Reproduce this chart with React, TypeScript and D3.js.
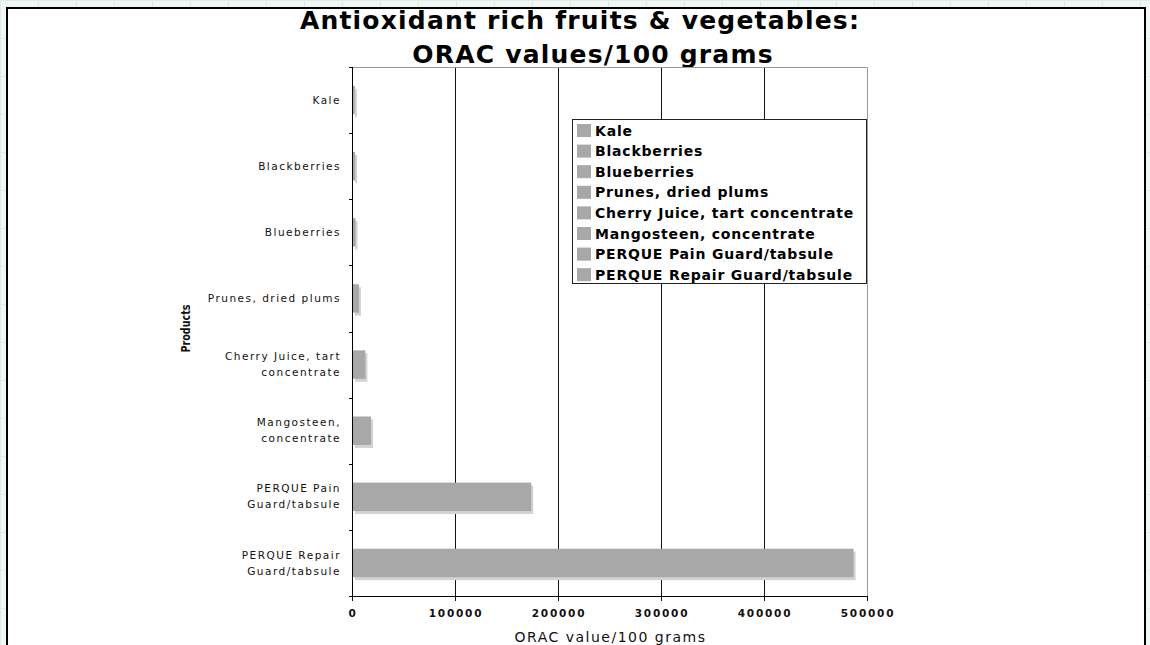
import { useEffect, useRef } from "react";
import * as d3 from "d3";

const categories = [
  "Kale",
  "Blackberries",
  "Blueberries",
  "Prunes, dried plums",
  "Cherry Juice, tart concentrate",
  "Mangosteen, concentrate",
  "PERQUE Pain Guard/tabsule",
  "PERQUE Repair Guard/tabsule",
];
// axis labels wrap onto two lines like the original
const axisLabels = [
  ["Kale"],
  ["Blackberries"],
  ["Blueberries"],
  ["Prunes, dried plums"],
  ["Cherry Juice, tart", "concentrate"],
  ["Mangosteen,", "concentrate"],
  ["PERQUE Pain", "Guard/tabsule"],
  ["PERQUE Repair", "Guard/tabsule"],
];
const legendLabels = [
  "Kale",
  "Blackberries",
  "Blueberries",
  "Prunes, dried plums",
  "Cherry Juice, tart concentrate",
  "Mangosteen, concentrate",
  "PERQUE Pain Guard/tabsule",
  "PERQUE Repair Guard/tabsule",
];
const oracValues = [1770, 2040, 2400, 5770, 12000, 17500, 173000, 486000];
const xTicks = [0, 100000, 200000, 300000, 400000, 500000];

const W = 1150;
const H = 645;
const BAR = "#a8a8a8";
const SHADOW = "#d2d2d2";
const FONT = "'DejaVu Sans', Verdana, sans-serif";

export default function App() {
  const svgRef = useRef<SVGSVGElement>(null);

  useEffect(() => {
    const svg = d3.select(svgRef.current);
    svg.selectAll("*").remove();

    const left = 352;
    const right = 867;
    const top = 67;
    const bottom = 596;

    const x = d3.scaleLinear().domain([0, 500000]).range([left, right]);
    const y = d3
      .scaleBand<string>()
      .domain(categories)
      .range([top, bottom])
      .paddingInner(0.57)
      .paddingOuter(0.285);

    // page background behind the frame
    svg.append("rect").attr("width", W).attr("height", H).attr("fill", "#f1f7f3");
    const bg = svg.append("g").attr("stroke", "#dfece5").attr("stroke-width", 1);
    d3.range(0, W, 38).forEach((v) =>
      bg.append("line").attr("x1", v + 0.5).attr("x2", v + 0.5).attr("y1", 0).attr("y2", H),
    );
    d3.range(0, H, 38).forEach((v) =>
      bg.append("line").attr("x1", 0).attr("x2", W).attr("y1", v + 0.5).attr("y2", v + 0.5),
    );

    svg
      .append("rect")
      .attr("x", 7)
      .attr("y", 8)
      .attr("width", 1138)
      .attr("height", 660)
      .attr("fill", "#fff")
      .attr("stroke", "#000")
      .attr("stroke-width", 2);

    // title
    const title = svg
      .append("g")
      .attr("font-family", FONT)
      .attr("font-weight", "bold")
      .attr("font-size", "25px")
      .attr("letter-spacing", "1.2px")
      .attr("text-anchor", "middle")
      .attr("fill", "#000");
    title.append("text").attr("x", 580).attr("y", 29).text("Antioxidant rich fruits & vegetables:");
    title.append("text").attr("x", 593).attr("y", 63).text("ORAC values/100 grams");

    // grid lines + x ticks
    svg
      .append("g")
      .selectAll("line")
      .data(xTicks)
      .enter()
      .append("line")
      .attr("x1", (d) => Math.round(x(d)) + 0.5)
      .attr("x2", (d) => Math.round(x(d)) + 0.5)
      .attr("y1", (d) => (d === 0 || d === 500000 ? bottom : top))
      .attr("y2", bottom + 5)
      .attr("stroke", "#111")
      .attr("stroke-width", 1);

    // plot border top/right
    svg
      .append("path")
      .attr("d", `M${left},${top + 0.5}H${right + 0.5}V${bottom}`)
      .attr("fill", "none")
      .attr("stroke", "#999")
      .attr("stroke-width", 1);

    // bars with soft drop shadow
    const barG = svg.append("g");
    barG
      .selectAll("rect.shadow")
      .data(oracValues)
      .enter()
      .append("rect")
      .attr("class", "shadow")
      .attr("x", x(0) + 3)
      .attr("y", (_, i) => y(categories[i])! + 3)
      .attr("width", (d) => x(d) - x(0))
      .attr("height", y.bandwidth())
      .attr("fill", SHADOW);
    barG
      .selectAll("rect.bar")
      .data(oracValues)
      .enter()
      .append("rect")
      .attr("class", "bar")
      .attr("x", x(0) + 1)
      .attr("y", (_, i) => y(categories[i])!)
      .attr("width", (d) => x(d) - x(0))
      .attr("height", y.bandwidth())
      .attr("fill", BAR);

    // axes lines
    svg
      .append("line")
      .attr("x1", left + 0.5)
      .attr("x2", left + 0.5)
      .attr("y1", top)
      .attr("y2", bottom + 1)
      .attr("stroke", "#000");
    svg
      .append("line")
      .attr("x1", left - 3)
      .attr("x2", right + 1)
      .attr("y1", bottom + 0.5)
      .attr("y2", bottom + 0.5)
      .attr("stroke", "#000");

    // y ticks at band boundaries
    const step = y.step();
    svg
      .append("g")
      .selectAll("line")
      .data(d3.range(categories.length + 1))
      .enter()
      .append("line")
      .attr("x1", left - 3)
      .attr("x2", left)
      .attr("y1", (i) => Math.round(top + i * step) + 0.5)
      .attr("y2", (i) => Math.round(top + i * step) + 0.5)
      .attr("stroke", "#000");

    // y category labels
    const yl = svg
      .append("g")
      .attr("font-family", FONT)
      .attr("font-size", "10.5px")
      .attr("letter-spacing", "1.5px")
      .attr("text-anchor", "end")
      .attr("fill", "#111");
    axisLabels.forEach((lines, i) => {
      const cy = y(categories[i])! + y.bandwidth() / 2;
      lines.forEach((t, j) => {
        yl.append("text")
          .attr("x", 341)
          .attr("y", cy + (j - (lines.length - 1) / 2) * 16)
          .attr("dy", "0.35em")
          .text(t);
      });
    });

    // x tick labels
    svg
      .append("g")
      .attr("font-family", FONT)
      .attr("font-size", "10.5px")
      .attr("font-weight", "bold")
      .attr("letter-spacing", "1.8px")
      .attr("text-anchor", "middle")
      .attr("fill", "#111")
      .selectAll("text")
      .data(xTicks)
      .enter()
      .append("text")
      .attr("x", (d) => x(d) + 1)
      .attr("y", 613)
      .attr("dy", "0.35em")
      .text((d) => String(d));

    // axis titles
    svg
      .append("text")
      .attr("x", (left + right) / 2 + 1)
      .attr("y", 637)
      .attr("dy", "0.35em")
      .attr("text-anchor", "middle")
      .attr("font-family", FONT)
      .attr("font-size", "14px")
      .attr("letter-spacing", "1.5px")
      .attr("fill", "#111")
      .text("ORAC value/100 grams");
    svg
      .append("text")
      .attr("transform", `translate(190,${(top + bottom) / 2 - 3}) rotate(-90)`)
      .attr("text-anchor", "middle")
      .attr("font-family", FONT)
      .attr("font-size", "13px")
      .attr("font-weight", "bold")
      .attr("textLength", 48)
      .attr("lengthAdjust", "spacingAndGlyphs")
      .attr("fill", "#111")
      .text("Products");

    // legend
    const lg = svg.append("g");
    lg.append("rect")
      .attr("x", 572.5)
      .attr("y", 119.5)
      .attr("width", 294)
      .attr("height", 164)
      .attr("fill", "#fff")
      .attr("stroke", "#222");
    const rows = lg
      .selectAll("g.item")
      .data(legendLabels)
      .enter()
      .append("g")
      .attr("class", "item")
      .attr("transform", (_, i) => `translate(577,${130.5 + i * 20.6})`);
    rows
      .append("rect")
      .attr("x", 0)
      .attr("y", -6.5)
      .attr("width", 14)
      .attr("height", 13)
      .attr("fill", BAR);
    rows
      .append("text")
      .attr("x", 18)
      .attr("dy", "0.36em")
      .attr("font-family", FONT)
      .attr("font-size", "14px")
      .attr("font-weight", "bold")
      .attr("letter-spacing", "0.8px")
      .attr("fill", "#000")
      .text((d) => d);
  }, []);

  return (
    <svg
      ref={svgRef}
      width={W}
      height={H}
      style={{ position: "absolute", left: 0, top: 0, display: "block" }}
    />
  );
}
